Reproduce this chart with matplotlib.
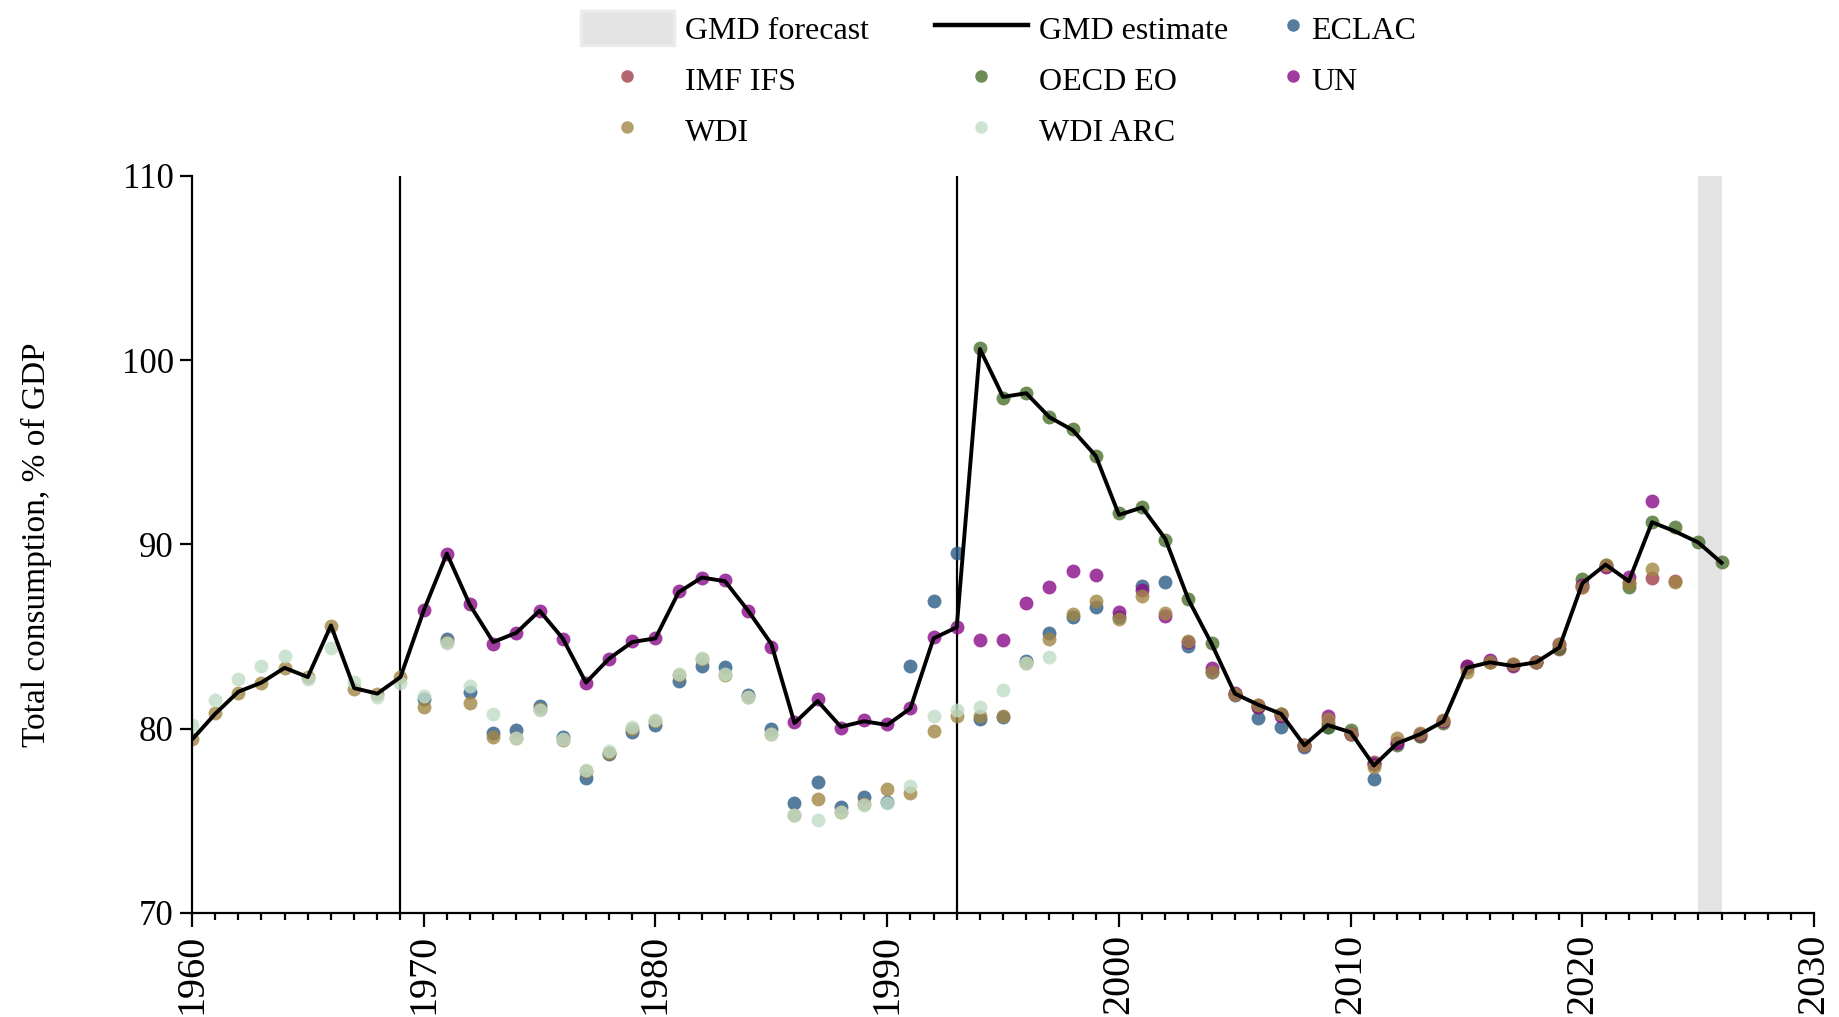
import matplotlib
matplotlib.use("Agg")
import matplotlib.pyplot as plt
from matplotlib.lines import Line2D
from matplotlib.patches import Patch

plt.rcParams['font.family'] = ['Liberation Serif', 'DejaVu Serif']

# ---------------- data ----------------
gmd_years = list(range(1960, 2027))
gmd_values = [79.4, 80.8, 82.0, 82.5, 83.3, 82.8, 85.6, 82.2, 81.9, 82.8,
              86.4, 89.5, 86.7, 84.7, 85.2, 86.4, 84.9, 82.5, 83.8, 84.7,
              84.9, 87.4, 88.2, 88.0, 86.4, 84.6, 80.3, 81.5, 80.1, 80.4,
              80.2, 81.1, 84.9, 85.5, 100.6, 98.0, 98.2, 96.9, 96.2, 94.8,
              91.6, 92.0, 90.3, 87.0, 84.6, 81.9, 81.3, 80.8, 79.1, 80.2,
              79.8, 78.0, 79.2, 79.7, 80.4, 83.3, 83.6, 83.4, 83.6, 84.4,
              87.9, 88.9, 88.0, 91.2, 90.7, 90.1, 89.0]

eclac_years = list(range(1970, 2012))
eclac_values = [81.6, 84.85, 82.0, 79.75, 79.93, 81.25, 79.57, 77.34, 78.61, 79.84,
                80.2, 82.59, 83.40, 83.33, 81.83, 79.97, 75.95, 77.09, 75.77, 76.31,
                76.0, 83.40, 86.93, 89.55, 80.5, 80.65, 83.67, 85.21, 86.04, 86.59,
                86.08, 87.76, 87.98, 84.51, 83.09, 81.8, 80.56, 80.08, 79.0, 80.1,
                79.7, 77.27]

imf_years = list(range(2005, 2025))
imf_values = [81.87, 81.3, 80.8, 79.1, 80.3, 79.7, 78.2, 79.2, 79.6, 80.4,
              83.4, 83.6, 83.5, 83.6, 84.3, 87.7, 88.8, 87.9, 88.16, 88.0]

oecd_years = list(range(1994, 2027))
oecd_values = [100.64, 97.96, 98.2, 96.93, 96.24, 94.80, 91.68, 92.01, 90.24, 87.02,
               84.63, 81.9, 81.2, 80.8, 79.1, 80.1, 79.9, 78.1, 79.1, 79.62,
               80.33, 83.3, 83.6, 83.46, 83.64, 84.4, 88.1, 88.9, 87.71, 91.23,
               90.93, 90.15, 89.03]

un_years = list(range(1970, 2024))
un_values = [86.44, 89.5, 86.75, 84.6, 85.21, 86.40, 84.87, 82.50, 83.78, 84.78,
             84.94, 87.47, 88.16, 88.07, 86.39, 84.45, 80.35, 81.6, 80.06, 80.47,
             80.24, 81.11, 85.0, 85.54, 84.81, 84.81, 86.84, 87.71, 88.58, 88.34,
             86.35, 87.5, 86.13, 84.69, 83.31, 81.95, 81.2, 80.7, 79.1, 80.69,
             79.7, 78.1, 79.2, 79.7, 80.4, 83.4, 83.7, 83.4, 83.6, 84.6,
             87.8, 88.79, 88.25, 92.35]

wdi_years = list(range(1960, 2025))
wdi_values = [79.44, 80.83, 81.96, 82.46, 83.28, 82.79, 85.59, 82.15, 81.87, 82.82,
              81.2, 84.7, 81.41, 79.53, 79.5, 81.07, 79.4, 77.7, 78.7, 80.0,
              80.4, 82.9, 83.8, 82.9, 81.7, 79.7, 75.3, 76.17, 75.5, 75.9,
              76.71, 76.49, 79.88, 80.69, 80.69, 80.7, 83.55, 84.85, 86.21, 86.93,
              85.93, 87.22, 86.26, 84.78, 83.09, 81.9, 81.3, 80.8, 79.1, 80.51,
              79.7, 77.9, 79.48, 79.75, 80.47, 83.1, 83.6, 83.5, 83.6, 84.58,
              87.7, 88.9, 87.9, 88.65, 87.94]

wdiarc_years = list(range(1960, 1998))
wdiarc_values = [80.2, 81.56, 82.70, 83.40, 83.94, 82.68, 84.40, 82.55, 81.74, 82.50,
                 81.77, 84.67, 82.32, 80.80, 79.51, 81.01, 79.42, 77.76, 78.79, 80.11,
                 80.47, 82.95, 83.86, 82.95, 81.70, 79.71, 75.32, 75.05, 75.46, 75.86,
                 75.98, 76.89, 80.69, 81.0, 81.2, 82.1, 83.55, 83.91]

forecast_span = (2025, 2026)
break_years = [1969, 1993]

source_names = ['ECLAC', 'IMF IFS', 'OECD EO', 'UN', 'WDI', 'WDI ARC']
source_colors = ['#2b5a85', '#a13d4a', '#4a6f2b', '#880b88', '#a18644', '#c1ddc7']

x_ticks = [1960, 1970, 1980, 1990, 2000, 2010, 2020, 2030]
y_ticks = [70, 80, 90, 100, 110]

# ---------------- figure ----------------
W, H = 1840, 1017
fig = plt.figure(figsize=(W / 100, H / 100), dpi=100)
ax = fig.add_axes([0.1043, 0.1023, 0.986 - 0.1043, 0.8272 - 0.1023])

ax.axvspan(*forecast_span, color='#e3e3e3', zorder=0, lw=0)
for by in break_years:
    ax.axvline(by, color='black', lw=1.6, zorder=1)

series = [(eclac_years, eclac_values), (imf_years, imf_values),
          (oecd_years, oecd_values), (un_years, un_values),
          (wdi_years, wdi_values), (wdiarc_years, wdiarc_values)]
order = [5, 4, 0, 2, 3, 1]  # drawing order
for i in order:
    xs, ys = series[i]
    ax.scatter(xs, ys, s=100, color=source_colors[i], alpha=0.8, lw=0, zorder=2 + i * 0.1)

ax.plot(gmd_years, gmd_values, color='black', lw=2.8, zorder=5)

ax.set_xlim(1960, 2030)
ax.set_ylim(70, 110)
for s in ['top', 'right']:
    ax.spines[s].set_visible(False)
for s in ['left', 'bottom']:
    ax.spines[s].set_linewidth(1.6)

ax.set_xticks(x_ticks)
ax.set_xticks(range(1960, 2031), minor=True)
ax.set_yticks(y_ticks)
ax.tick_params(axis='x', which='major', length=10, width=1.6, labelsize=29,
               labelrotation=90, pad=5)
ax.tick_params(axis='x', which='minor', length=5, width=1.6)
ax.tick_params(axis='y', which='major', length=9, width=1.6, labelsize=25, pad=4)
ax.set_ylabel('Total consumption, % of GDP', fontsize=24, labelpad=50)

# ---------------- legend ----------------
fsz = 23
em = fsz * 100 / 72
h_fore = Patch(facecolor='#e3e3e3', edgecolor='#ebebeb', lw=2.5)
h_est = Line2D([], [], color='black', lw=3.2)
def dot(c):
    return Line2D([], [], ls='', marker='o', markersize=9, markerfacecolor=c,
                  markeredgewidth=0, alpha=0.8)
handles_a = [h_fore, dot(source_colors[1]), dot(source_colors[4]),
             h_est, dot(source_colors[2]), dot(source_colors[5])]
labels_a = ['GMD forecast', 'IMF IFS', 'WDI', 'GMD estimate', 'OECD EO', 'WDI ARC']
common = dict(frameon=False, fontsize=fsz, handleheight=41 / em, handletextpad=11 / em,
              labelspacing=0.5, borderpad=0, borderaxespad=0, loc='upper left')
leg_a = fig.legend(handles_a, labels_a, ncol=2, bbox_to_anchor=(581 / W, 1 - 11 / H),
                   handlelength=93 / em, columnspacing=66 / em, **common)
handles_b = [dot(source_colors[0]), dot(source_colors[3])]
leg_b = fig.legend(handles_b, ['ECLAC', 'UN'], ncol=1,
                   bbox_to_anchor=(1286 / W, 1 - 11 / H),
                   handlelength=14 / em, **common)

fig.savefig('out.png', dpi=100)
